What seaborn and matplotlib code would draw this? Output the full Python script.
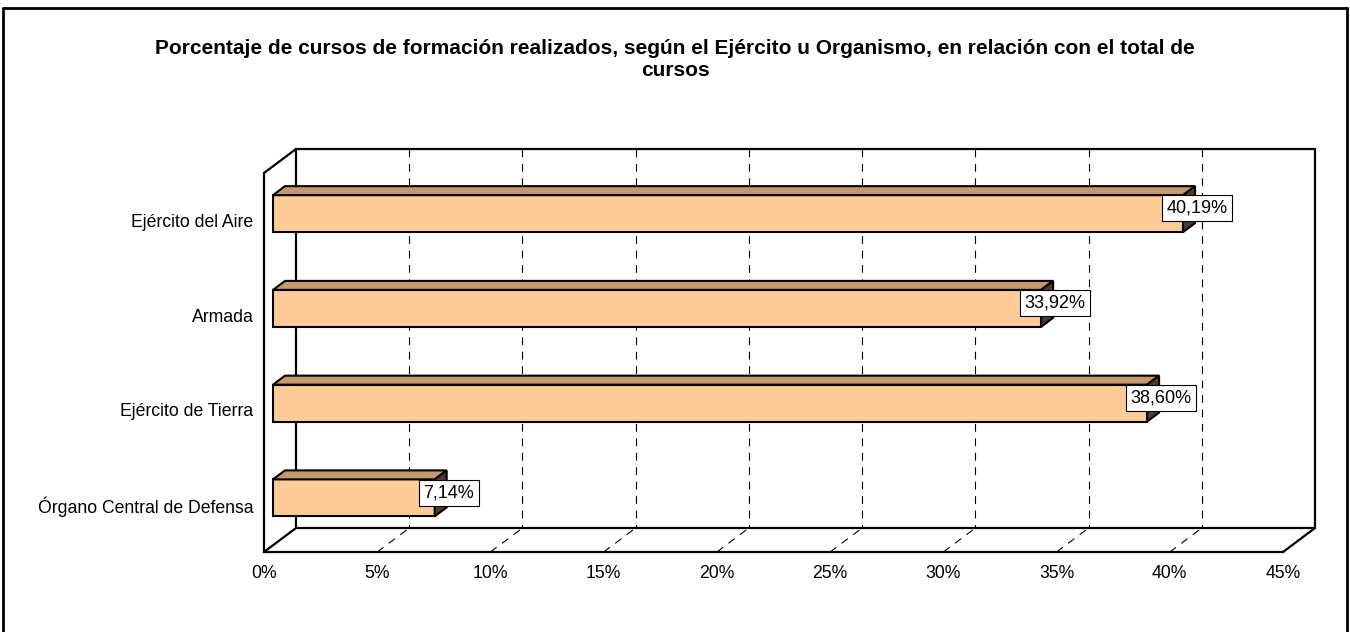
import matplotlib
matplotlib.use("Agg")
import matplotlib.pyplot as plt
import numpy as np
import seaborn as sns
from matplotlib.lines import Line2D
from matplotlib.patches import Polygon, Rectangle

categories = ["Ejército del Aire", "Armada", "Ejército de Tierra", "Órgano Central de Defensa"]
values = [40.19, 33.92, 38.60, 7.14]
value_labels = ["40,19%", "33,92%", "38,60%", "7,14%"]
xticks = [0, 5, 10, 15, 20, 25, 30, 35, 40, 45]
title_lines = ["Porcentaje de cursos de formación realizados, según el Ejército u Organismo, "
               "en relación con el total de", "cursos"]

FRONT = "#FFCC99"
TOP = "#C4996E"
SIDE = "#4f3c28"
FS = 12.7

sns.set_style("white")
plt.rcParams["font.family"] = ["Liberation Sans", "DejaVu Sans"]
plt.rcParams["text.color"] = "black"
plt.rcParams["xtick.labelcolor"] = "black"
plt.rcParams["ytick.labelcolor"] = "black"

W, H = 1350, 632
fig = plt.figure(figsize=(W / 100, H / 100), dpi=100)
# front plane of the pseudo-3d box, in pixels
x0_px, x1_px, ytop_px, ybot_px = 264, 1283, 173, 552
ax = fig.add_axes([x0_px / W, (H - ybot_px) / H, (x1_px - x0_px) / W, (ybot_px - ytop_px) / H])

sns.barplot(x=values, y=categories, orient="h", width=0.39, color=FRONT,
            saturation=1, edgecolor="black", linewidth=1.5, ax=ax)
bars = list(ax.patches)
ax.set_xlim(0, 45)
ax.set_ylim(3.5, -0.5)

# depth of the box (32 px right, 24 px up) in data units
ux = (x1_px - x0_px) / 45
uy = (ybot_px - ytop_px) / 4
ddx, ddy = 32 / ux, -24 / uy
f0, f1 = 9 / 32, 21 / 32

# back wall, floor and left wall
ax.add_patch(Rectangle((ddx, -0.5 + ddy), 45, 4, fill=False, lw=1.6,
                       ec="black", clip_on=False, zorder=1))
for xs, ys in [([0, ddx], [-0.5, -0.5 + ddy]),
               ([0, ddx], [3.5, 3.5 + ddy]),
               ([45, 45 + ddx], [3.5, 3.5 + ddy])]:
    ax.add_line(Line2D(xs, ys, color="black", lw=1.6, clip_on=False, zorder=1))
for t in xticks[1:-1]:
    ax.add_line(Line2D([t + ddx] * 2, [-0.5 + ddy, 3.5 + ddy], color="black", lw=0.8,
                       ls=(0, (7, 6)), clip_on=False, zorder=1))
    ax.add_line(Line2D([t, t + ddx], [3.5, 3.5 + ddy], color="black", lw=0.8,
                       ls=(0, (7, 6)), clip_on=False, zorder=1))

# bars: shift front faces into the box and add top / end faces
bx, by = (f1 - f0) * ddx, (f1 - f0) * ddy
for p in bars:
    p.set_x(p.get_x() + f0 * ddx)
    p.set_y(p.get_y() + f0 * ddy)
    p.set_clip_on(False)
    p.set_zorder(3)
    xa, xb = p.get_x(), p.get_x() + p.get_width()
    ya, yb = p.get_y(), p.get_y() + p.get_height()
    ax.add_patch(Polygon([(xa, ya), (xb, ya), (xb + bx, ya + by), (xa + bx, ya + by)],
                         closed=True, fc=TOP, ec="black", lw=1.5, clip_on=False, zorder=3))
    ax.add_patch(Polygon([(xb, ya), (xb + bx, ya + by), (xb + bx, yb + by), (xb, yb)],
                         closed=True, fc=SIDE, ec="black", lw=1.5, clip_on=False, zorder=3))

for i, (v, lab) in enumerate(zip(values, value_labels)):
    ax.text(v + 1.02, i + 0.5 * ddy, lab, ha="center", va="center", fontsize=13,
            zorder=5, bbox=dict(boxstyle="square,pad=0.25", fc="white", ec="black", lw=0.8))

# axes styling
sns.despine(ax=ax, top=True, right=True)
for s in ("left", "bottom"):
    ax.spines[s].set_color("black")
    ax.spines[s].set_linewidth(1.6)
ax.set_xticks(xticks)
ax.set_xticklabels([f"{t}%" for t in xticks])
ax.set_yticks(np.arange(4), categories)
ax.set_yticks(np.arange(-0.5, 4, 1), minor=True)
ax.tick_params(axis="x", length=4.5, width=1, color="black", labelcolor="black",
               labelsize=FS, pad=5, direction="out")
ax.tick_params(axis="y", which="major", length=0, labelcolor="black", labelsize=FS, pad=7.5)
ax.tick_params(axis="y", which="minor", length=4.5, width=1.5, color="black", direction="out")
ax.set_xlabel("")
ax.set_ylabel("")
ax.grid(False)

for k, line in enumerate(title_lines):
    fig.text(0.5, 1 - (48 + 23 * k) / H, line, ha="center", va="center",
             fontsize=15, fontweight="bold", color="black")

# outer chart frame
for xs, ys in [([3, 3], [H + 5, 8]), ([3, W - 3], [8, 8]), ([W - 3, W - 3], [8, H + 5])]:
    fig.add_artist(Line2D([x / W for x in xs], [1 - y / H for y in ys],
                          transform=fig.transFigure, color="black", lw=2))

fig.savefig("out.png", dpi=100)
